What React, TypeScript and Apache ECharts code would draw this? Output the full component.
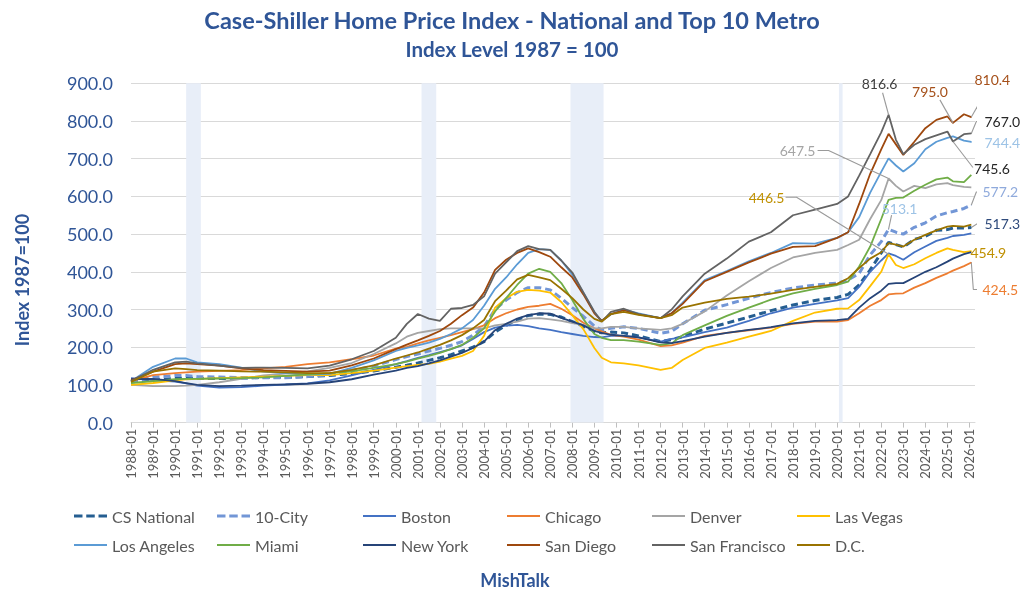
import React, { useEffect, useRef } from "react";
import * as echarts from "echarts";

const FONT = "Lato, 'Noto Sans', sans-serif";
const BLUE = "#2F5597";
const GRAY_TEXT = "#595959";

const sampleDates = [
  "1988-01", "1989-01", "1990-01", "1990-07", "1991-01", "1992-01", "1993-01", "1994-01", "1995-01", "1996-01",
  "1997-01", "1998-01", "1999-01", "2000-01", "2000-07", "2001-01", "2001-07", "2002-01", "2002-07", "2003-01",
  "2003-07", "2004-01", "2004-07", "2005-01", "2005-07", "2006-01", "2006-07", "2007-01", "2007-07", "2008-01",
  "2008-07", "2009-01", "2009-05", "2009-10", "2010-05", "2011-01", "2012-01", "2012-07", "2013-01", "2014-01",
  "2015-01", "2016-01", "2017-01", "2018-01", "2019-01", "2020-01", "2020-07", "2021-01", "2021-07", "2022-01",
  "2022-05", "2022-09", "2023-01", "2023-07", "2024-01", "2024-07", "2025-01", "2025-04", "2025-10", "2026-02",
];

const recessions = [
  ["1990-07", "1991-03"],
  ["2001-03", "2001-11"],
  ["2007-12", "2009-06"],
  ["2020-02", "2020-04"],
];

const csNational = [108, 113, 117, 118, 117, 117, 118, 120, 120, 122, 125, 130, 137, 147, 152, 158, 165, 172, 180, 190, 200, 215, 240, 258, 272, 284, 288, 287, 280, 268, 256, 242, 238, 240, 238, 230, 215, 220, 228, 248, 264, 280, 297, 312, 324, 332, 340, 365, 405, 450, 478, 472, 466, 486, 494, 510, 512, 516, 516, 517.3];
const tenCity = [108, 120, 125, 125, 122, 121, 119, 119, 119, 122, 127, 138, 150, 167, 175, 182, 190, 197, 205, 215, 232, 255, 300, 325, 345, 358, 358, 352, 330, 305, 282, 256, 246, 250, 254, 250, 237, 242, 262, 298, 313, 330, 345, 357, 365, 370, 378, 396, 445, 480, 513.1, 505, 500, 518, 530, 548, 557, 560, 568, 577.2];
const boston = [118, 113, 109, 104, 98, 93, 94, 98, 101, 104, 112, 125, 140, 155, 163, 172, 179, 187, 195, 205, 222, 240, 252, 257, 259, 256, 250, 246, 240, 235, 230, 227, 226, 230, 230, 226, 215, 222, 226, 240, 252, 270, 290, 305, 315, 324, 330, 360, 400, 430, 449, 442, 432, 452, 467, 482, 490, 495, 498, 502];
const chicago = [110, 126, 131, 133, 135, 137, 139, 144, 148, 155, 160, 168, 178, 196, 201, 210, 218, 225, 232, 240, 248, 258, 277, 290, 300, 307, 310, 315, 302, 285, 265, 250, 242, 233, 228, 220, 203, 205, 212, 230, 238, 245, 252, 262, 268, 268, 272, 290, 310, 325, 340, 342, 343, 358, 370, 384, 396, 403, 415, 424.5];
const denver = [100, 97, 97, 98, 100, 107, 116, 125, 130, 136, 145, 158, 182, 210, 228, 238, 243, 248, 250, 250, 250, 250, 258, 262, 268, 276, 277, 274, 270, 264, 259, 250, 250, 254, 254, 250, 246, 250, 262, 295, 337, 375, 410, 438, 450, 458, 471, 485, 540, 590, 647.5, 628, 613, 628, 622, 632, 635, 630, 625, 623.7];
const lasVegas = [100, 105, 112, 115, 116, 118, 120, 122, 124, 126, 126, 131, 138, 146, 150, 153, 156, 162, 170, 177, 190, 230, 305, 330, 347, 352, 350, 345, 320, 285, 248, 198, 172, 160, 157, 152, 140, 145, 166, 198, 212, 228, 243, 270, 292, 302, 303, 325, 362, 400, 446.5, 418, 410, 420, 436, 450, 462, 458, 452, 454.9];
const losAngeles = [110, 148, 170, 170, 160, 155, 146, 135, 131, 127, 129, 145, 165, 190, 198, 205, 212, 222, 235, 250, 272, 310, 355, 385, 420, 450, 460, 458, 430, 392, 345, 292, 270, 287, 300, 290, 277, 290, 318, 378, 402, 428, 450, 476, 475, 490, 505, 545, 610, 665, 701, 682, 666, 688, 725, 745, 755, 759, 748, 744.4];
const miami = [105, 110, 115, 116, 116, 117, 118, 120, 124, 128, 131, 136, 145, 155, 162, 170, 177, 185, 195, 206, 225, 250, 295, 330, 365, 395, 408, 400, 370, 325, 275, 235, 225, 219, 219, 215, 206, 210, 232, 258, 283, 305, 326, 343, 355, 365, 374, 414, 467, 540, 591, 596, 597, 615, 631, 645, 650, 640, 638, 657];
const newYork = [115, 116, 110, 105, 100, 97, 98, 100, 101, 103, 107, 115, 127, 138, 145, 150, 157, 165, 175, 185, 198, 215, 245, 262, 276, 285, 290, 289, 278, 268, 258, 243, 238, 233, 230, 226, 213, 211, 216, 228, 238, 246, 253, 263, 270, 272, 275, 305, 330, 350, 368, 370, 370, 385, 400, 412, 427, 435, 447, 452];
const sanDiego = [112, 135, 155, 157, 155, 151, 144, 139, 137, 135, 138, 152, 170, 195, 207, 218, 230, 243, 262, 285, 305, 345, 405, 432, 450, 462, 452, 440, 412, 385, 340, 290, 270, 288, 298, 287, 277, 290, 315, 375, 400, 425, 448, 466, 468, 490, 505, 580, 660, 725, 766, 738, 710, 745, 781, 803, 812, 795.0, 818, 810.4];
const sanFrancisco = [110, 140, 160, 162, 157, 151, 145, 146, 145, 144, 151, 168, 190, 225, 262, 288, 276, 270, 302, 304, 312, 335, 395, 425, 455, 468, 460, 458, 430, 398, 345, 294, 268, 294, 302, 288, 277, 300, 335, 395, 435, 480, 505, 550, 565, 580, 600, 655, 712, 770, 816.6, 750, 712, 737, 752, 762, 772, 745.6, 765, 767.0];
const dc = [108, 135, 144, 142, 139, 138, 136, 135, 133, 131, 131, 140, 152, 170, 178, 186, 196, 206, 218, 232, 250, 272, 322, 350, 380, 392, 385, 378, 355, 330, 300, 275, 268, 288, 294, 286, 277, 285, 305, 318, 328, 334, 342, 352, 360, 368, 383, 410, 435, 452, 476, 472, 467, 485, 498, 510, 520, 522, 520, 525];

// dx/dy: label centre offset (px) from its point.
// leader: list of px offsets from the point (elbow / end) that the leader passes through.
type Lbl = { date: string; color: string; dx: number; dy: number; leader?: number[][] };
type Def = { name: string; values: number[]; color: string; dashed?: boolean; labels: Lbl[] };

const seriesDefs: Def[] = [
  { name: "CS National", values: csNational, color: "#255E91", dashed: true, labels: [{ date: "2026-02", color: "#2F4B7C", dx: 31, dy: -4, leader: [[6, -4], [12, -4]] }] },
  { name: "10-City", values: tenCity, color: "#7296D6", dashed: true, labels: [{ date: "2026-02", color: "#8FAADC", dx: 29, dy: -13, leader: [[5, -13], [11, -13]] }, { date: "2022-05", color: "#9DC3E6", dx: 11, dy: -21, leader: [[3, -14]] }] },
  { name: "Boston", values: boston, color: "#4472C4", labels: [] },
  { name: "Chicago", values: chicago, color: "#ED7D31", labels: [{ date: "2026-02", color: "#ED7D31", dx: 29, dy: 27, leader: [[2, 27], [10, 27]] }] },
  { name: "Denver", values: denver, color: "#A5A5A5", labels: [{ date: "2022-05", color: "#A5A5A5", dx: -91, dy: -28, leader: [[-60, -28], [-71, -28]] }] },
  { name: "Las Vegas", values: lasVegas, color: "#FFC000", labels: [{ date: "2026-02", color: "#BF9000", dx: 17, dy: 1 }, { date: "2022-05", color: "#BF9000", dx: -122, dy: -57, leader: [[-92, -57], [-103, -57]] }] },
  { name: "Los Angeles", values: losAngeles, color: "#5B9BD5", labels: [{ date: "2026-02", color: "#9DC3E6", dx: 31, dy: 1 }] },
  { name: "Miami", values: miami, color: "#70AD47", labels: [] },
  { name: "New York", values: newYork, color: "#264478", labels: [] },
  { name: "San Diego", values: sanDiego, color: "#9E480E", labels: [{ date: "2026-02", color: "#A5501A", dx: 21, dy: -38, leader: [[17, -30]] }, { date: "2025-04", color: "#A5501A", dx: -23, dy: -31, leader: [[-13, -23]] }] },
  { name: "San Francisco", values: sanFrancisco, color: "#636363", labels: [{ date: "2022-05", color: "#404040", dx: -9, dy: -31, leader: [[-6, -22]] }, { date: "2026-02", color: "#262626", dx: 31, dy: -12, leader: [[5, -12], [11, -12]] }, { date: "2025-04", color: "#262626", dx: 39, dy: 27, leader: [[20, 26]] }] },
  { name: "D.C.", values: dc, color: "#997300", labels: [] },
];

const legendRows = [
  ["CS National", "10-City", "Boston", "Chicago", "Denver", "Las Vegas"],
  ["Los Angeles", "Miami", "New York", "San Diego", "San Francisco", "D.C."],
];
const legendCols = [74, 217, 363, 507, 652, 797];
const legendTops = [508, 537];
const DASH_ICON = "path://M0,0h9v3h-9z M13,0h9v3h-9z M26,0h9v3h-9z";

const W = 1024;
const H = 613;
const GRID = { left: 131, right: 49, top: 83.3, bottom: 190.4 };
const Y_MAX = 900;

const months: string[] = [];
for (let y = 1988; y <= 2026; y++) {
  for (let m = 1; m <= 12; m++) {
    const s = `${y}-${m < 10 ? "0" + m : m}`;
    months.push(s);
    if (s === "2026-04") break;
  }
}

function buildData(def: Def) {
  const arr: any[] = months.map(() => null);
  sampleDates.forEach((d, i) => {
    const idx = months.indexOf(d);
    const lbl = def.labels.find((l) => l.date === d);
    const v = def.values[i];
    arr[idx] = lbl
      ? {
          value: v,
          symbol: "circle",
          symbolSize: 1,
          label: {
            show: true,
            position: "inside",
            formatter: v.toFixed(1),
            color: lbl.color,
            fontSize: 14,
            fontFamily: FONT,
          },
        }
      : v;
  });
  return arr;
}

export default function App() {
  const ref = useRef<HTMLDivElement>(null);
  useEffect(() => {
    if (!ref.current) return;
    const chart = echarts.init(ref.current, undefined, { renderer: "svg" });

    // pixel-to-data ratios of the plot, used to express leader offsets on a hidden value axis pair
    const monthsPerPx = (months.length - 1) / (W - GRID.left - GRID.right);
    const unitsPerPx = Y_MAX / (H - GRID.top - GRID.bottom);

    const series: any[] = [
      {
        type: "line",
        name: "__recessions",
        data: months.map(() => null),
        silent: true,
        symbol: "none",
        markArea: {
          silent: true,
          itemStyle: { color: "#E8EEF8" },
          data: recessions.map(([a, b]) => [{ xAxis: a }, { xAxis: b }]),
        },
      },
    ];
    seriesDefs.forEach((def) => {
      series.push({
        type: "line",
        name: def.name,
        data: buildData(def),
        connectNulls: true,
        showSymbol: true,
        showAllSymbol: true,
        symbol: "none",
        lineStyle: {
          color: def.color,
          width: def.dashed ? 3 : 1.8,
          type: def.dashed ? [7, 4] : "solid",
        },
        itemStyle: { color: def.color },
        label: { show: false },
        labelLayout: (p: any) => {
          const d = months[p.dataIndex];
          const l = def.labels.find((x) => x.date === d);
          return l ? { dx: l.dx, dy: l.dy } : {};
        },
        emphasis: { disabled: true },
      });
    });
    // leader lines (point -> elbow -> label edge) on the hidden value axes
    seriesDefs.forEach((def) =>
      def.labels.forEach((l) => {
        if (!l.leader) return;
        const i = sampleDates.indexOf(l.date);
        const idx = months.indexOf(l.date);
        const v = def.values[i];
        const pts = [[idx, v]].concat(l.leader.map(([ox, oy]) => [idx + ox * monthsPerPx, v - oy * unitsPerPx]));
        series.push({
          type: "line",
          name: "__leader",
          xAxisIndex: 1,
          yAxisIndex: 1,
          data: pts,
          symbol: "none",
          silent: true,
          clip: false,
          z: 4,
          lineStyle: { color: "#9A9A9A", width: 1.1 },
          emphasis: { disabled: true },
        });
      })
    );

    const legends: any[] = [];
    const defByName: Record<string, Def> = {};
    seriesDefs.forEach((d) => (defByName[d.name] = d));
    legendRows.forEach((row, r) =>
      row.forEach((name, c) => {
        const dashed = !!defByName[name].dashed;
        legends.push({
          data: [{ name, icon: dashed ? DASH_ICON : "rect" }],
          left: legendCols[c],
          top: legendTops[r],
          padding: 0,
          itemWidth: 33,
          itemHeight: dashed ? 3 : 2,
          selectedMode: false,
          textStyle: { color: GRAY_TEXT, fontSize: 16, fontFamily: FONT },
        });
      })
    );

    chart.setOption({
      animation: false,
      textStyle: { fontFamily: FONT },
      title: [
        {
          text: "Case-Shiller Home Price Index - National and Top 10 Metro",
          subtext: "Index Level 1987 = 100",
          left: "center",
          top: 1,
          itemGap: 3,
          textStyle: { fontSize: 23.5, fontWeight: "bold", color: BLUE, fontFamily: FONT, lineHeight: 28 },
          subtextStyle: { fontSize: 20.5, fontWeight: "bold", color: BLUE, fontFamily: FONT, lineHeight: 24 },
        },
      ],
      legend: legends,
      grid: { ...GRID, containLabel: false },
      xAxis: [
        {
          type: "category",
          data: months,
          boundaryGap: false,
          axisLine: { lineStyle: { color: "#D9D9D9" } },
          axisTick: { interval: 11, length: 5, lineStyle: { color: "#BFBFBF" } },
          axisLabel: { interval: 11, rotate: 90, color: GRAY_TEXT, fontSize: 13, fontFamily: FONT, margin: 6 },
          splitLine: { show: false },
        },
        { type: "value", min: 0, max: months.length - 1, show: false },
      ],
      yAxis: [
        {
          type: "value",
          min: 0,
          max: Y_MAX,
          interval: 100,
          axisLine: { show: false },
          axisTick: { show: false },
          axisLabel: { formatter: (v: number) => v.toFixed(1), color: BLUE, fontSize: 18, fontFamily: FONT, margin: 18 },
          splitLine: { lineStyle: { color: "#D9D9D9", width: 1 } },
        },
        { type: "value", min: 0, max: Y_MAX, show: false },
      ],
      graphic: [
        {
          type: "text",
          x: 22,
          y: 280,
          rotation: Math.PI / 2,
          style: { text: "Index 1987=100", fill: BLUE, fontSize: 18, fontWeight: "bold", fontFamily: FONT, align: "center", verticalAlign: "middle" },
        },
        {
          type: "text",
          x: 515,
          y: 580,
          style: { text: "MishTalk", fill: BLUE, fontSize: 18, fontWeight: "bold", fontFamily: FONT, align: "center", verticalAlign: "middle" },
        },
      ],
      series,
    });

    return () => chart.dispose();
  }, []);
  return <div ref={ref} style={{ position: "fixed", left: 0, top: 0, width: W, height: H }} />;
}
